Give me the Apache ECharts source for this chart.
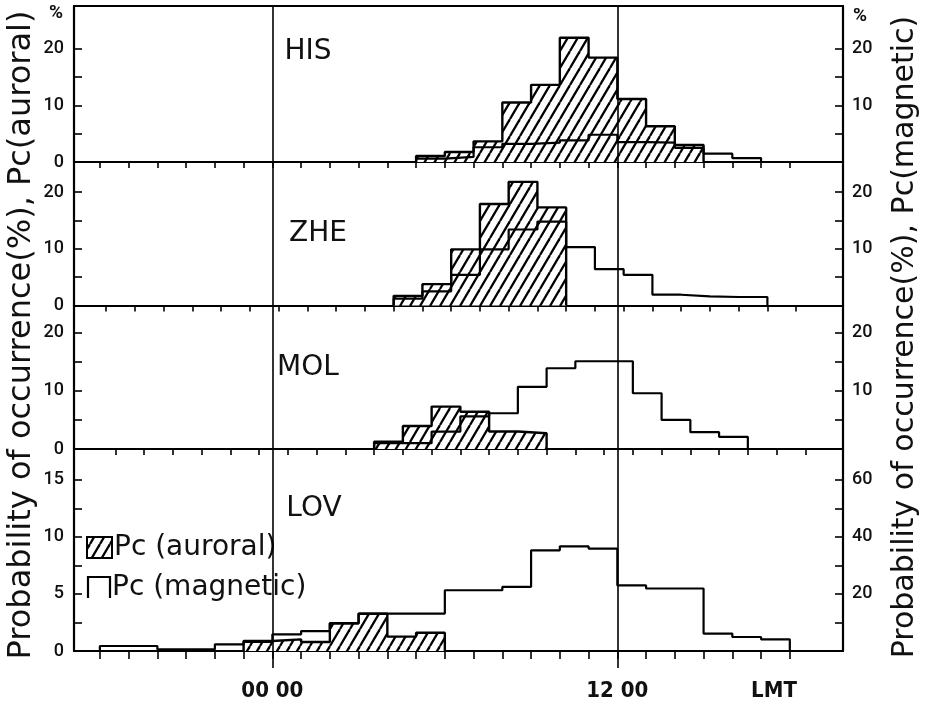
<!DOCTYPE html>
<html><head><meta charset="utf-8">
<script src="https://cdn.jsdelivr.net/npm/echarts@6/dist/echarts.min.js"></script>
<style>html,body{margin:0;padding:0;background:#fff}#c{width:929px;height:710px}</style>
</head><body><div id="c"></div>
<script>
// ---------- data (bin start hour LMT, value %) ----------
const stations = ['HIS', 'ZHE', 'MOL', 'LOV'];
const tickOffsets = [0, 0.22, 0.54, 0];           // hour-tick phase of each panel's baseline
const hisAuroral  = [[5,1.06],[6,1.76],[7,3.64],[8,10.5],[9,13.6],[10,21.9],[11,18.4],[12,11.1],[13,6.3],[14,3.0]];
const hisMagnetic = [[5,0.6],[6,0.9],[7,2.6],[8,3.2],[9,3.4],[10,3.8],[11,4.8],[12,3.5],[13,3.4],[14,2.5],[15,1.47],[16,0.7]];
const zheAuroral  = [[4.22,1.7],[5.22,3.76],[6.22,9.9],[7.22,17.9],[8.22,21.8],[9.22,17.3]];
const zheMagnetic = [[4.22,1.2],[5.22,2.5],[6.22,5.4],[7.22,9.9],[8.22,13.4],[9.22,14.8],[10.22,10.3],[11.22,6.4],[12.22,5.4],[13.22,1.9],[14.22,1.6],[15.22,1.5],[16.22,1.5]];
const molAuroral  = [[3.54,1.26],[4.54,3.97],[5.54,7.3],[6.54,6.4],[7.54,3.0],[8.54,2.7]];
const molMagnetic = [[3.54,1.0],[4.54,1.0],[5.54,3.0],[6.54,5.6],[7.54,6.15],[8.54,10.7],[9.54,13.9],[10.54,15.1],[11.54,15.1],[12.54,9.6],[13.54,5.0],[14.54,2.9],[15.54,2.1]];
const lovAuroral  = [[-1,0.88],[0,1.02],[1,0.79],[2,2.43],[3,3.27],[4,1.26],[5,1.6]];
const lovMagnetic = [[-6,1.75],[-5,1.75],[-4,0.6],[-3,0.6],[-2,2.3],[-1,3.2],[0,5.85],[1,7.0],[2,9.7],[3,13.1],[4,13.1],[5,13.1],[6,21.3],[7,21.3],[8,22.5],[9,35.3],[10,36.7],[11,35.9],[12,23.0],[13,21.9],[14,21.9],[15,6.1],[16,4.9],[17,4.1]];
const auroralSets  = [hisAuroral, zheAuroral, molAuroral, lovAuroral];
const magneticSets = [hisMagnetic, zheMagnetic, molMagnetic, lovMagnetic];
// axis scales
const leftMax  = [27.5, 25.3, 24.7, 17.7];
const rightMax = [27.5, 25.3, 24.7, 70.8];
const leftTicks  = [[5,10,15,20],[5,10,15,20],[5,10,15,20],[2.5,5,7.5,10,12.5,15]];
const leftLabels = [[0,10,20],[0,10,20],[0,10,20],[0,5,10,15]];
const rightTicks  = [[5,10,15,20],[5,10,15,20],[5,10,15,20],[10,20,30,40,50,60]];
const rightLabels = [[10,20],[10,20],[10,20],[20,40,60]];
const hourTicks = [-6,-5,-4,-3,-2,-1,0,1,2,3,4,5,6,7,8,9,10,11,12,13,14,15,16,17,18];
const xLabels = [[0,'00 00'],[12,'12 00']];
const binWidth = 1;

// ---------- layout ----------
const X_MIN = -6.9, X_MAX = 19.85;
const panels = [{top:6,h:156},{top:162,h:143.5},{top:305.5,h:143.5},{top:449,h:202}];

function stepPoints(bins){
  const pts = [[bins[0][0], 0]];
  bins.forEach(b => pts.push([b[0], b[1]]));
  const last = bins[bins.length - 1];
  pts.push([last[0] + binWidth, last[1]]);
  pts.push([last[0] + binWidth, 0]);
  return pts;
}

// hatch pattern
const pc = document.createElement('canvas');
pc.width = 10; pc.height = 17;
(function(){
  const g = pc.getContext('2d');
  g.fillStyle = '#fff'; g.fillRect(0,0,10,17);
  g.strokeStyle = '#000'; g.lineWidth = 2.3;
  for (const x0 of [-10, 0, 10]) { g.beginPath(); g.moveTo(x0, 17); g.lineTo(x0 + 10, 0); g.stroke(); }
})();

const tickFont = {fontFamily:'Roboto', fontSize:18, fontWeight:500, color:'#111'};
const grid = [], xAxis = [], yAxis = [], series = [];
panels.forEach((p, i) => {
  grid.push({left:74, right:86, top:p.top, height:p.h, show:false});
  const ticks = hourTicks.map(h => +(h + tickOffsets[i]).toFixed(2)).filter(v => v > X_MIN && v < 18.7);
  xAxis.push({type:'value', gridIndex:i, min:X_MIN, max:X_MAX, position:'bottom',
    axisLine:{show:true, onZero:false, lineStyle:{color:'#000', width:2.2}},
    axisTick:{show:true, inside:false, length: i===3 ? 8 : 6, customValues:ticks, lineStyle:{color:'#000', width:1.6}},
    axisLabel:{show:false}, splitLine:{show:false}});
  yAxis.push({type:'value', gridIndex:i, min:0, max:leftMax[i], position:'left',
    axisLine:{show:true, onZero:false, lineStyle:{color:'#000', width:2.2}},
    axisTick:{show:true, inside:true, length:8, customValues:leftTicks[i], lineStyle:{color:'#000', width:1.6}},
    axisLabel:Object.assign({show:true, margin:10, customValues:leftLabels[i]}, tickFont),
    splitLine:{show:false}});
  yAxis.push({type:'value', gridIndex:i, min:0, max:rightMax[i], position:'right',
    axisLine:{show:true, onZero:false, lineStyle:{color:'#000', width:2.2}},
    axisTick:{show:true, inside:true, length:8, customValues:rightTicks[i], lineStyle:{color:'#000', width:1.6}},
    axisLabel:Object.assign({show:true, margin:9, customValues:rightLabels[i]}, tickFont),
    splitLine:{show:false}});
  series.push({type:'line', name:'Pc (auroral)', xAxisIndex:i, yAxisIndex:2*i, step:'end',
    data:stepPoints(auroralSets[i]), symbol:'none', silent:true, z:2,
    lineStyle:{color:'#000', width:2.4}, areaStyle:{color:{image:pc, repeat:'repeat'}, opacity:1},
    markLine:{symbol:'none', silent:true, label:{show:false}, lineStyle:{color:'#000', type:'solid', width:1.6},
      data:[{xAxis:0},{xAxis:12}]}});
  series.push({type:'line', name:'Pc (magnetic)', xAxisIndex:i, yAxisIndex:2*i+1, step:'end',
    data:stepPoints(magneticSets[i]), symbol:'none', silent:true, z:3,
    lineStyle:{color:'#000', width:2.2}});
});
// top frame line of first panel
xAxis.push({type:'value', gridIndex:0, min:X_MIN, max:X_MAX, position:'top',
  axisLine:{show:true, onZero:false, lineStyle:{color:'#000', width:2.2}}, axisTick:{show:false}, axisLabel:{show:false}, splitLine:{show:false}});
// bottom labels + long ticks at 00 and 12
xAxis.push({type:'value', gridIndex:3, min:X_MIN, max:X_MAX, position:'bottom',
  axisLine:{show:false, onZero:false},
  axisTick:{show:true, inside:false, length:17, customValues:xLabels.map(d=>d[0]), lineStyle:{color:'#000', width:1.6}},
  axisLabel:{show:true, margin:29, customValues:xLabels.map(d=>d[0]),
    formatter:v => (xLabels.find(d => d[0] === v) || [0,''])[1],
    fontFamily:'Liberation Sans Narrow, DejaVu Sans Condensed, Roboto', fontWeight:'bold', fontSize:22, color:'#111'},
  splitLine:{show:false}});

const stationPos = [[308,52],[318,234],[308,368],[314,509]];
const graphic = [];
stations.forEach((s, i) => graphic.push({type:'text', x:stationPos[i][0], y:stationPos[i][1],
  style:{text:s, fontFamily:'DejaVu Sans', fontSize:28, fill:'#111', align:'center', verticalAlign:'middle'}}));
graphic.push({type:'text', x:56, y:13, style:{text:'%', fontFamily:'Roboto', fontSize:19, fontWeight:'bold', fill:'#111', align:'center', verticalAlign:'middle'}});
graphic.push({type:'text', x:860, y:16, style:{text:'%', fontFamily:'Roboto', fontSize:19, fontWeight:'bold', fill:'#111', align:'center', verticalAlign:'middle'}});
graphic.push({type:'text', x:22, y:335, rotation:Math.PI/2,
  style:{text:'Probability of occurrence(%), Pc(auroral)', fontFamily:'DejaVu Sans', fontSize:32, fill:'#111', align:'center', verticalAlign:'middle'}});
graphic.push({type:'text', x:905, y:337, rotation:Math.PI/2,
  style:{text:'Probability of occurrence(%), Pc(magnetic)', fontFamily:'DejaVu Sans', fontSize:30, fill:'#111', align:'center', verticalAlign:'middle'}});
graphic.push({type:'text', x:774, y:691, style:{text:'LMT', fontFamily:'Liberation Sans Narrow, DejaVu Sans Condensed, Roboto', fontWeight:'bold', fontSize:22, fill:'#111', align:'center', verticalAlign:'middle'}});
// legend
graphic.push({type:'rect', shape:{x:87, y:537, width:25, height:21}, style:{fill:{image:pc, repeat:'repeat'}, stroke:'#000', lineWidth:2}});
graphic.push({type:'text', x:114, y:548, style:{text:'Pc (auroral)', fontFamily:'DejaVu Sans', fontSize:28, fill:'#111', align:'left', verticalAlign:'middle'}});
graphic.push({type:'polyline', shape:{points:[[88,598],[88,577],[110,577],[110,598]]}, style:{stroke:'#000', lineWidth:2.2, fill:null}});
graphic.push({type:'text', x:112, y:588, style:{text:'Pc (magnetic)', fontFamily:'DejaVu Sans', fontSize:28, fill:'#111', align:'left', verticalAlign:'middle'}});

const chart = echarts.init(document.getElementById('c'), null, {renderer:'canvas'});
chart.setOption({backgroundColor:'#fff', animation:false, grid, xAxis, yAxis, series, graphic});
</script></body></html>
